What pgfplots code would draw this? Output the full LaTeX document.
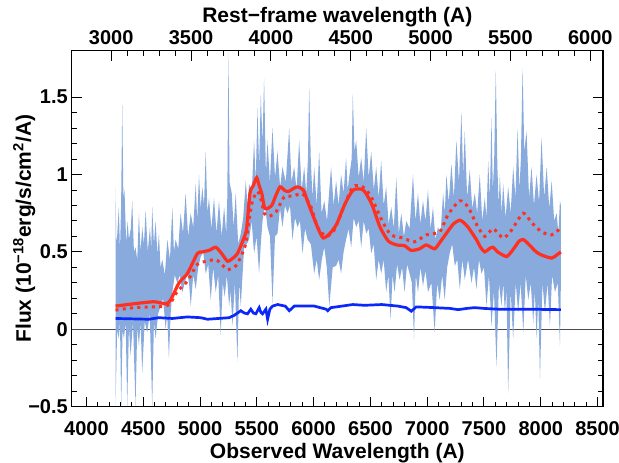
\documentclass[border=0pt]{standalone}
\usepackage{fontspec}
\setmainfont{Liberation Sans}
\usepackage{pgfplots}
\pgfplotsset{compat=1.18}
\definecolor{band}{RGB}{136,170,221}
\definecolor{redl}{RGB}{255,48,32}
\definecolor{bluel}{RGB}{10,40,250}
\begin{document}
\begin{tikzpicture}
\useasboundingbox (-71.7pt,-56.3pt) rectangle (547.3pt,406.7pt);
\begin{axis}[
  at={(0pt,0pt)}, anchor=south west,
  scale only axis, width=531.3pt, height=356pt,
  xmin=3870, xmax=8548, ymin=-0.5, ymax=1.8,
  xtick pos=bottom, ytick pos=both,
  tick align=inside,
  xtick={4000,4500,5000,5500,6000,6500,7000,7500,8000,8500},
  xticklabels={4000,4500,5000,5500,6000,6500,7000,7500,8000,8500},
  minor x tick num=4,
  ytick={-0.5,0,0.5,1,1.5},
  yticklabels={−0.5,0,0.5,1,1.5},
  minor y tick num=4,
  major tick length=10pt, minor tick length=5pt,
  every tick/.style={black, line width=1pt},
  axis line style={line width=1.2pt},
  ticklabel style={font=\fontsize{20}{24}\selectfont\bfseries},
  xticklabel style={anchor=base, yshift=-29.3pt},
  yticklabel style={anchor=east, inner sep=0pt, xshift=-3.7pt},
  xlabel={Observed Wavelength (A)},
  xlabel style={font=\fontsize{21}{24}\selectfont\bfseries, at={(axis description cs:0.5,0)}, anchor=base, yshift=-52.3pt},
  ylabel={Flux (10\textsuperscript{−18}erg/s/cm\textsuperscript{2}/A)},
  ylabel style={font=\fontsize{21}{24}\selectfont\bfseries, at={([xshift=-40.7pt]axis description cs:0,0.5)}, anchor=base},
]
% zero line
\addplot[black!70, line width=1.2pt] coordinates {(3870,0) (8548,0)};
% noisy spectrum band (upper envelope then lower envelope reversed)
\addplot[fill=band, draw=none] coordinates {
(4256,0.92)(4263,0.55)(4270,0.60)(4285,0.79)(4295,0.50)(4305,0.80)(4315,1.45)(4325,0.85)(4335,0.90)(4350,0.55)(4362,0.70)(4374,0.58)(4390,0.65)(4403,0.83)(4418,0.50)(4432,0.53)(4447,0.45)(4462,0.75)(4476,0.50)(4491,0.66)(4506,0.55)(4521,0.77)(4540,0.50)(4559,0.66)(4570,0.52)(4579,0.79)(4594,0.55)(4609,0.70)(4625,0.48)(4638,0.62)(4652,0.40)(4668,0.45)(4690,0.35)(4712,0.58)(4735,0.45)(4756,0.79)(4770,0.50)(4785,0.58)(4808,0.52)(4829,0.75)(4850,0.62)(4873,0.88)(4895,0.60)(4918,0.75)(4940,0.66)(4962,0.94)(4975,0.70)(4991,1.00)(5005,0.78)(5020,0.92)(5035,0.80)(5050,1.15)(5065,0.75)(5079,0.85)(5100,0.65)(5123,0.85)(5145,0.62)(5167,0.83)(5190,0.60)(5212,0.79)(5230,0.62)(5240,0.85)(5250,1.79)(5260,0.95)(5279,0.88)(5296,0.66)(5314,0.88)(5336,0.55)(5359,0.62)(5380,0.72)(5403,0.96)(5418,0.80)(5432,0.94)(5455,0.88)(5476,1.22)(5490,0.95)(5506,1.43)(5520,1.05)(5535,1.52)(5550,1.20)(5564,1.62)(5580,1.00)(5594,1.22)(5615,0.95)(5638,1.30)(5660,0.98)(5682,1.15)(5705,0.92)(5726,1.05)(5755,0.95)(5785,1.30)(5805,0.95)(5829,1.05)(5850,0.90)(5873,1.22)(5895,0.90)(5917,1.05)(5935,0.88)(5950,1.10)(5961,1.56)(5975,1.10)(5990,0.85)(6005,1.05)(6027,0.80)(6049,1.15)(6070,0.75)(6094,0.83)(6118,0.70)(6140,0.92)(6154,1.05)(6176,0.80)(6198,0.96)(6220,0.80)(6242,1.00)(6264,0.88)(6286,1.11)(6300,0.90)(6316,1.00)(6335,1.10)(6345,1.52)(6360,1.15)(6375,1.22)(6397,0.98)(6419,1.11)(6441,0.95)(6463,1.30)(6485,0.98)(6507,1.15)(6530,0.90)(6551,1.05)(6573,0.85)(6595,1.09)(6617,0.80)(6639,0.92)(6660,0.68)(6684,0.79)(6706,0.65)(6728,0.98)(6750,0.62)(6772,0.75)(6795,0.60)(6816,0.70)(6845,0.65)(6875,1.00)(6897,0.70)(6919,0.88)(6940,0.68)(6963,0.83)(6985,0.70)(7007,0.90)(7030,0.65)(7051,0.79)(7073,0.58)(7095,0.66)(7118,0.62)(7140,0.88)(7155,0.75)(7169,1.00)(7190,0.82)(7213,1.07)(7235,0.85)(7257,1.22)(7280,0.95)(7301,1.41)(7316,1.00)(7331,1.28)(7352,0.85)(7375,1.03)(7397,0.78)(7419,0.88)(7440,0.75)(7463,1.00)(7485,0.70)(7507,0.85)(7522,0.72)(7537,1.09)(7552,0.85)(7566,1.37)(7578,0.90)(7590,1.10)(7604,1.67)(7618,1.05)(7630,0.80)(7640,1.00)(7655,0.75)(7669,0.94)(7690,0.72)(7713,0.92)(7735,0.75)(7757,1.05)(7777,0.85)(7796,1.30)(7812,0.90)(7825,1.10)(7840,1.69)(7855,1.15)(7875,1.28)(7897,0.85)(7919,1.05)(7940,0.80)(7963,1.00)(7985,0.82)(8007,1.24)(8030,0.85)(8052,1.05)(8075,0.78)(8096,0.96)(8118,0.70)(8140,0.75)(8155,0.62)(8169,0.83)(8177,0.80)
(8177,0.30)(8169,-0.11)(8150,0.30)(8125,0.24)(8100,0.35)(8081,0.02)(8060,0.30)(8037,0.11)(8015,0.30)(7993,-0.32)(7978,0.20)(7963,-0.06)(7948,0.25)(7934,0.04)(7912,0.30)(7890,0.19)(7868,0.35)(7846,-0.02)(7823,0.30)(7801,0.11)(7780,0.30)(7757,-0.06)(7735,0.25)(7713,-0.41)(7698,0.25)(7684,0.11)(7670,0.30)(7654,0.15)(7632,0.30)(7610,-0.24)(7588,0.25)(7566,0.02)(7544,0.35)(7522,0.15)(7500,0.40)(7478,0.36)(7456,0.45)(7434,0.26)(7412,0.40)(7390,0.30)(7360,0.45)(7331,0.32)(7310,0.45)(7287,0.26)(7265,0.45)(7243,0.41)(7220,0.55)(7198,0.49)(7176,0.40)(7154,0.19)(7132,0.35)(7110,0.19)(7088,0.30)(7066,-0.02)(7037,0.30)(7007,0.24)(6985,0.38)(6963,0.28)(6941,0.40)(6919,0.24)(6900,0.35)(6884,-0.06)(6865,0.30)(6845,0.36)(6823,0.42)(6801,0.24)(6779,0.40)(6757,0.32)(6735,0.42)(6713,0.24)(6695,0.35)(6678,0.06)(6658,0.35)(6639,0.24)(6617,0.45)(6595,0.36)(6573,0.45)(6551,0.32)(6529,0.55)(6507,0.49)(6485,0.65)(6463,0.62)(6441,0.70)(6419,0.53)(6397,0.70)(6375,0.66)(6353,0.72)(6331,0.53)(6308,0.65)(6286,0.58)(6264,0.50)(6242,0.36)(6220,0.45)(6198,0.41)(6168,0.40)(6138,0.15)(6116,0.40)(6094,0.53)(6072,0.45)(6049,0.32)(6027,0.45)(6005,0.36)(5976,0.55)(5947,0.58)(5925,0.65)(5902,0.49)(5880,0.70)(5858,0.66)(5836,0.72)(5814,0.58)(5792,0.80)(5770,0.75)(5748,0.80)(5726,0.66)(5704,0.78)(5682,0.62)(5660,0.60)(5638,0.17)(5616,0.60)(5594,0.66)(5572,0.80)(5550,0.70)(5535,0.55)(5520,0.36)(5498,0.60)(5476,0.49)(5454,0.70)(5432,0.58)(5410,0.55)(5388,0.53)(5374,0.35)(5359,0.15)(5344,0.30)(5329,-0.21)(5307,0.30)(5285,0.02)(5270,0.25)(5256,0.15)(5236,0.35)(5217,0.21)(5200,0.30)(5182,-0.04)(5160,0.35)(5138,0.24)(5116,0.40)(5094,0.19)(5072,0.42)(5050,0.36)(5028,0.50)(5006,0.47)(4984,0.40)(4962,0.26)(4940,0.35)(4918,0.15)(4903,0.30)(4888,0.36)(4866,0.30)(4844,0.24)(4822,0.35)(4800,0.30)(4778,0.35)(4756,0.24)(4741,0.10)(4726,-0.19)(4711,0.10)(4697,0.0)(4675,0.20)(4653,0.15)(4631,0.10)(4609,-0.06)(4594,0.05)(4579,-0.5)(4557,0.10)(4535,-0.02)(4513,0.05)(4491,-0.28)(4476,0.05)(4462,-0.11)(4447,0.02)(4432,-0.5)(4410,0.05)(4388,-0.17)(4374,0.02)(4359,-0.5)(4345,0.05)(4330,-0.06)(4318,0.0)(4306,-0.5)(4295,0.05)(4285,-0.06)(4270,0.0)(4256,-0.5)
};
% blue line
\addplot[bluel, line width=2.7pt] coordinates {
(4256,0.07)(4550,0.065)(4638,0.075)(4756,0.07)(4888,0.08)(5006,0.075)(5065,0.065)(5256,0.075)(5300,0.09)(5359,0.12)(5390,0.105)(5418,0.10)(5447,0.13)(5470,0.105)(5491,0.10)(5521,0.14)(5535,0.11)(5550,0.10)(5580,0.13)(5595,0.065)(5615,0.13)(5639,0.15)(5683,0.16)(5750,0.15)(5786,0.12)(5830,0.15)(6006,0.15)(6110,0.13)(6124,0.12)(6153,0.14)(6250,0.15)(6345,0.16)(6448,0.155)(6600,0.16)(6742,0.15)(6815,0.14)(6860,0.117)(6904,0.145)(7065,0.14)(7200,0.135)(7272,0.127)(7350,0.135)(7418,0.14)(7500,0.135)(7624,0.13)(7800,0.13)(7919,0.13)(8050,0.128)(8177,0.127)
};
% red dotted
\addplot[redl, line width=3pt, dash pattern=on 3pt off 4.3pt, smooth, tension=0.4] coordinates {
(4256,0.124)(4418,0.14)(4600,0.145)(4697,0.15)(4741,0.17)(4800,0.245)(4888,0.31)(4977,0.42)(5060,0.44)(5139,0.45)(5190,0.42)(5242,0.385)(5315,0.41)(5360,0.47)(5403,0.555)(5430,0.70)(5462,0.83)(5507,0.89)(5540,0.83)(5565,0.75)(5609,0.73)(5670,0.76)(5741,0.855)(5815,0.86)(5904,0.875)(5977,0.79)(6036,0.66)(6109,0.60)(6180,0.64)(6260,0.78)(6345,0.92)(6433,0.92)(6507,0.855)(6610,0.69)(6683,0.61)(6786,0.59)(6889,0.565)(6992,0.61)(7110,0.63)(7183,0.74)(7286,0.83)(7360,0.79)(7433,0.68)(7507,0.60)(7580,0.65)(7669,0.59)(7742,0.64)(7845,0.75)(7919,0.69)(8007,0.63)(8095,0.61)(8177,0.655)
};
% red solid
\addplot[redl, line width=3.2pt, smooth, tension=0.4] coordinates {
(4256,0.15)(4418,0.165)(4594,0.178)(4697,0.165)(4741,0.19)(4815,0.30)(4888,0.36)(4977,0.49)(5021,0.50)(5080,0.51)(5139,0.53)(5190,0.49)(5242,0.44)(5290,0.46)(5330,0.49)(5381,0.58)(5410,0.65)(5440,0.88)(5470,0.93)(5499,0.98)(5520,0.93)(5543,0.88)(5572,0.78)(5631,0.80)(5665,0.86)(5704,0.92)(5740,0.90)(5777,0.89)(5851,0.92)(5909,0.90)(5950,0.82)(5997,0.73)(6040,0.65)(6085,0.59)(6144,0.62)(6203,0.68)(6276,0.81)(6349,0.90)(6437,0.90)(6511,0.81)(6585,0.66)(6658,0.57)(6732,0.545)(6800,0.54)(6860,0.51)(6933,0.52)(6992,0.545)(7065,0.52)(7110,0.56)(7169,0.62)(7230,0.68)(7286,0.705)(7320,0.69)(7360,0.66)(7433,0.58)(7470,0.53)(7507,0.50)(7545,0.52)(7580,0.53)(7620,0.50)(7698,0.47)(7740,0.50)(7771,0.53)(7810,0.57)(7845,0.58)(7880,0.56)(7919,0.53)(7960,0.50)(8007,0.48)(8095,0.46)(8140,0.48)(8177,0.50)
};
\end{axis}
\begin{axis}[
  at={(0pt,0pt)}, anchor=south west,
  scale only axis, width=531.3pt, height=356pt,
  xmin=2752.5, xmax=6079.7, ymin=0, ymax=1,
  axis x line*=top, axis y line=none,
  axis line style={-, line width=1.2pt},
  tick align=inside,
  xtick={3000,3500,4000,4500,5000,5500,6000},
  xticklabels={3000,3500,4000,4500,5000,5500,6000},
  minor x tick num=4,
  major tick length=10pt, minor tick length=5pt,
  every tick/.style={black, line width=1pt},
  ticklabel style={font=\fontsize{20}{24}\selectfont\bfseries},
  xticklabel style={anchor=base, yshift=5.7pt},
  xlabel={Rest−frame wavelength (A)},
  xlabel style={font=\fontsize{21}{24}\selectfont\bfseries, at={(axis description cs:0.5,1)}, anchor=base, yshift=28.2pt},
]
\end{axis}
\end{tikzpicture}
\end{document}
